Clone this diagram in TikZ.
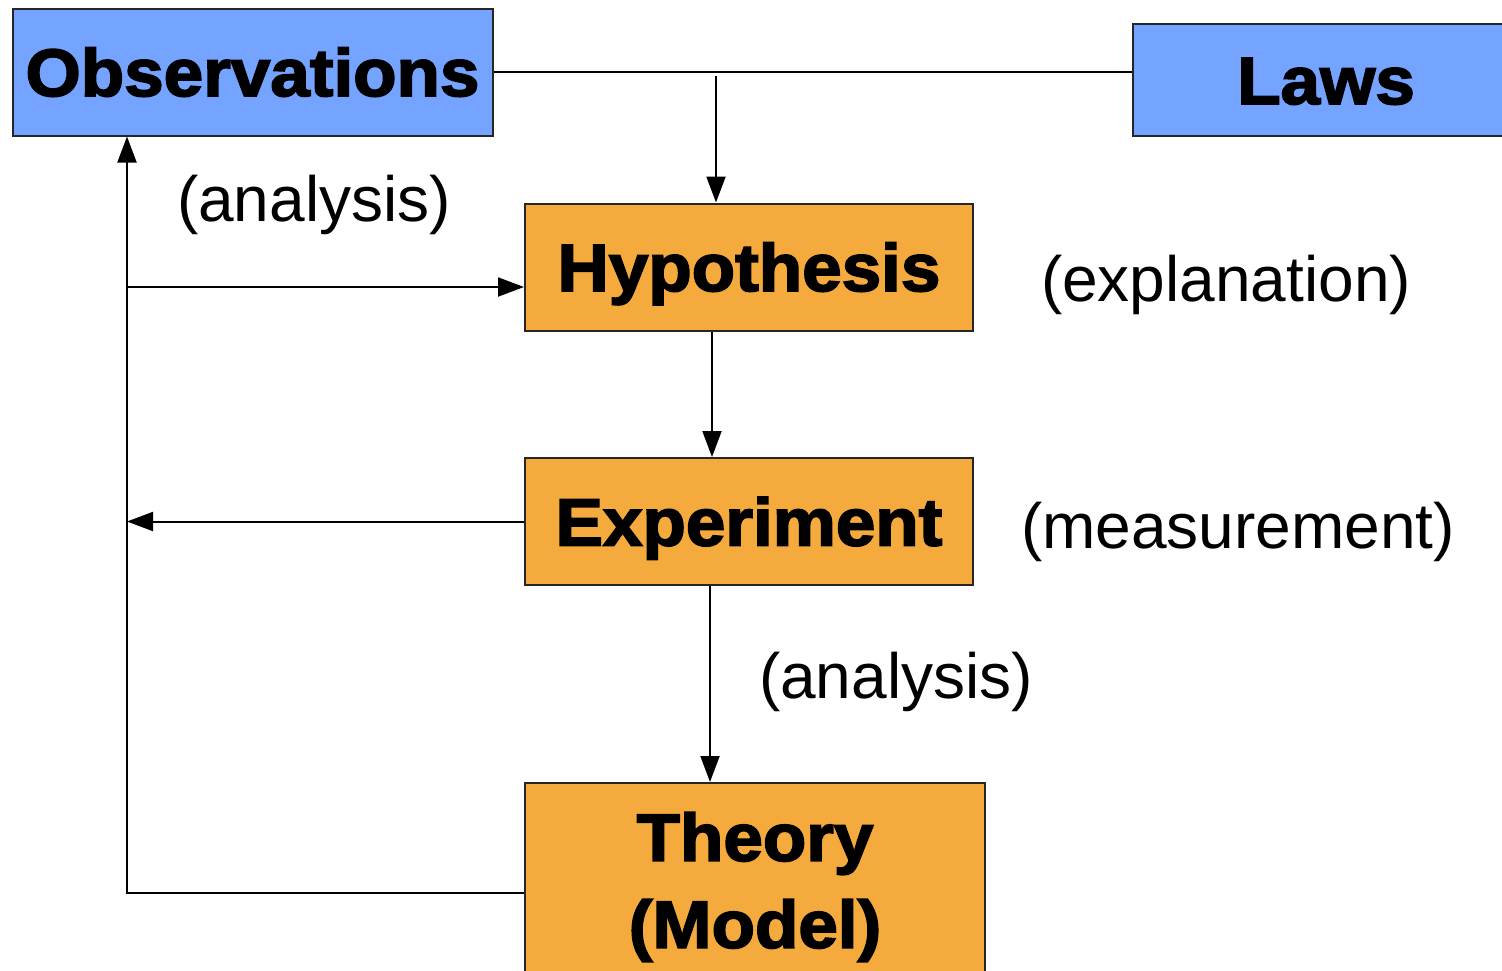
\documentclass[tikz,border=0pt]{standalone}
\usepackage{fontspec}
\setmainfont{Liberation Sans}
\newfontfamily\heavyfont{Liberation Sans}[BoldFeatures={FakeBold=2.6,FakeStretch=1.06}]
\usetikzlibrary{arrows.meta}

\definecolor{obsblue}{RGB}{116,164,255}
\definecolor{hyporange}{RGB}{245,170,61}

\begin{document}
\begin{tikzpicture}[
    x=1pt, y=-1pt,
    blockblue/.style={rectangle, draw=black!85, line width=2pt, fill=obsblue,
        inner sep=0pt, text height=48pt, text depth=0pt,
        font=\heavyfont\bfseries\fontsize{67}{91}\selectfont},
    blockorange/.style={rectangle, draw=black!85, line width=2pt, fill=hyporange,
        inner sep=0pt, text height=48pt, text depth=0pt,
        font=\heavyfont\bfseries\fontsize{67}{91}\selectfont},
    note/.style={font=\fontsize{64}{70}\selectfont, inner sep=0pt},
    link/.style={line width=2pt, -},
    arrow/.style={line width=2pt, -{Triangle[length=26pt,width=19pt]}}
]
    \useasboundingbox (0,0) rectangle (1502,970);
    \begin{scope}
    \clip (0,0) rectangle (1502,970);
    \node[blockblue, minimum width=480pt, minimum height=127pt] (obs) at (252.5,72) {Observations};
    \node[blockblue, minimum width=386pt, minimum height=112pt] (laws) at (1326,80) {Laws};
    \node[blockorange, minimum width=448pt, minimum height=127pt] (hyp) at (749,267) {Hypothesis};
    \node[blockorange, minimum width=448pt, minimum height=127pt] (exp) at (749,521.5) {Experiment};
    \node[blockorange, minimum width=460pt, minimum height=208pt, text height=, text depth=,
        align=center] (theory) at (755,887) {Theory\\[-4pt](Model)};
    \end{scope}

    \node[note] (lblana) at (314,205) {(analysis)};
    \node[note] (lblexp) at (1226,285) {(explanation)};
    \node[note] (lblmeas) at (1238,532) {(measurement)};
    \node[note] (lblana2) at (896,682) {(analysis)};

    \coordinate (split) at (716,76);
    \coordinate (corner) at (127,893);
    \coordinate (hypin) at (127,287);

    \draw[link] (obs.east) -- (obs.east -| laws.west);
    \draw[arrow] (split) -- (split |- hyp.north);
    \draw[arrow] ([xshift=-37pt]hyp.south) -- ([xshift=-37pt]exp.north);
    \draw[arrow] ([xshift=-39pt]exp.south) -- ([xshift=-45pt]theory.north);
    \draw[arrow] (corner -| theory.west) -- (corner) -- (corner |- obs.south);
    \draw[arrow] (hypin) -- (hypin -| hyp.west);
    \draw[arrow] (exp.west) -- (exp.west -| corner);
\end{tikzpicture}
\end{document}
